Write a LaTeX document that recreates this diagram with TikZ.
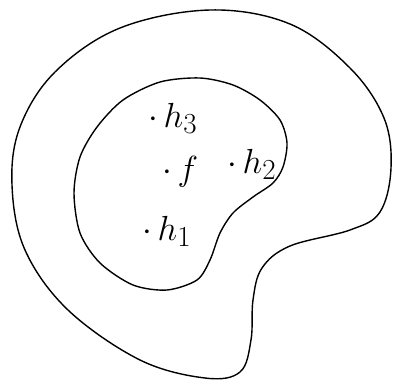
\documentclass[tikz,border=0pt]{standalone}
\usepackage{graphicx}
\usepackage{tikz}

\newcommand{\pt}[1]{\scalebox{1.4}{$\cdot\,#1$}}

\begin{document}
\begin{tikzpicture}[
  x=1pt, y=-1pt,
  region/.style={line width=1.4pt, line join=round},
  lbl/.style={anchor=base west, inner sep=0pt, font=\Huge}
]
  \useasboundingbox (0,0) rectangle (394,380);
  % outer region
  \draw[region] plot[smooth cycle, tension=0.6] coordinates {
    (210,10) (120,28) (55,72) (20,127) (12,185) (25,250) (68,310)
    (140,360) (205,378) (240,372) (251,340) (253,300) (262,268) (290,246)
    (350,230) (380,212) (391,168) (384,118) (350,68) (290,24)};
  % inner region
  \draw[region] plot[smooth cycle] coordinates {
    (200,78) (233,85) (260,100) (280,120) (287,143) (283,167) (273,183)
    (253,197) (233,213) (220,233) (210,260) (197,280) (167,290) (133,285)
    (100,263) (80,233) (74,193) (80,157) (97,127) (123,100) (160,82)};
  \node[lbl] (h3) at (148,127) {\pt{h_3}};
  \node[lbl] (f)  at (162,180) {\pt{f}};
  \node[lbl] (h2) at (227,173) {\pt{h_2}};
  \node[lbl] (h1) at (142,240) {\pt{h_1}};
\end{tikzpicture}
\end{document}
